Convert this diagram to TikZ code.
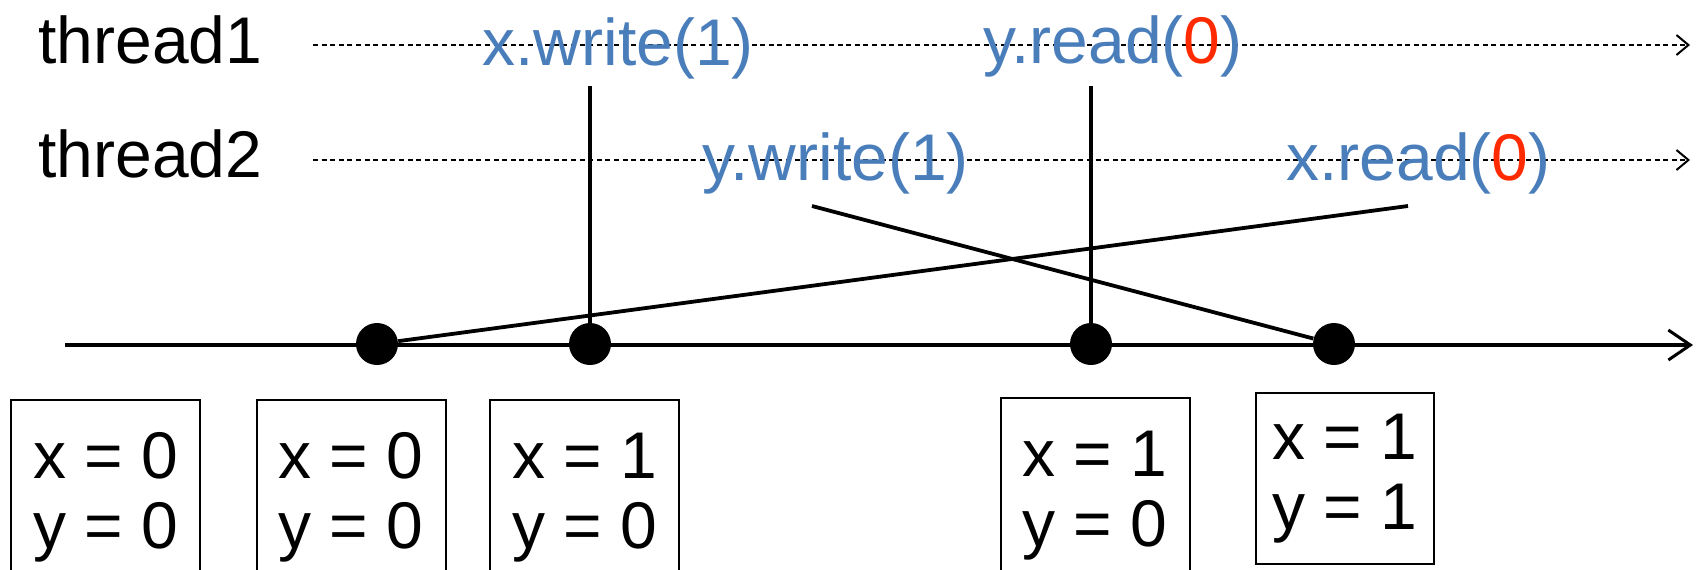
\documentclass[tikz,border=0pt]{standalone}
\usepackage{fontspec}
\setmainfont{Liberation Sans}
\usepackage{xcolor}
\usetikzlibrary{arrows.meta}
\definecolor{opblue}{HTML}{4A7EBB}
\definecolor{opred}{HTML}{FF2A00}

\begin{document}
\begin{tikzpicture}[
    x=0.5pt, y=-0.5pt,
    font=\fontsize{33}{35}\selectfont,
    lbl/.style={anchor=base west, inner sep=0pt},
    op/.style={lbl, text=opblue},
    thread/.style={line width=1.3pt, dash pattern=on 2.5pt off 1.8pt, -{Straight Barb[length=6pt, width=10pt, line width=1pt]}},
    axis/.style={line width=2.2pt, -{Straight Barb[length=11pt, width=15pt, line width=1.5pt]}},
    link/.style={line width=1.9pt},
    event/.style={circle, fill=black, inner sep=0pt, minimum size=21pt},
    statebox/.style={draw, line width=1pt, anchor=north, align=left, inner xsep=0pt, minimum width=94.5pt, minimum height=97.5pt}
  ]
    \useasboundingbox (0,0) rectangle (1698,569);
    % thread time lines
    \coordinate (t1start) at (313,45);
    \coordinate (t1end) at (1690,45);
    \coordinate (t2start) at (313,160);
    \coordinate (t2end) at (1690,160);
    \draw[thread] (t1start) -- (t1end);
    \draw[thread] (t2start) -- (t2end);
    % global order
    \coordinate (tstart) at (65,345);
    \coordinate (tend) at (1693,345);
    \draw[axis] (tstart) -- (tend);
    \node[lbl] (thread1) at (38,63) {thread1};
    \node[lbl] (thread2) at (38,177) {thread2};
    \node[op] (xw) at (482,65) {x.write(1)};
    \node[op] (yr) at (983,63) {y.read(\textcolor{opred}{0})};
    \node[op] (yw) at (702,180) {y.write(1)};
    \node[op] (xr) at (1286,180) {x.read(\textcolor{opred}{0})};
    \coordinate (xwfoot) at (590,86);
    \coordinate (yrfoot) at (1091,86);
    \coordinate (ywfoot) at (812,206);
    \coordinate (xrfoot) at (1408,206);
    \node[event] (e1) at (377,344) {};
    \node[event] (e2) at (590,344) {};
    \node[event] (e3) at (1091,344) {};
    \node[event] (e4) at (1334,344) {};
    \draw[link] (xwfoot) -- (e2);
    \draw[link] (yrfoot) -- (e3);
    \draw[link] (ywfoot) -- (e4);
    \draw[link] (xrfoot) -- (e1);
    % memory states
    \node[statebox] (s1) at (105.5,399) {x = 0\\y = 0};
    \node[statebox] (s2) at (351,399) {x = 0\\y = 0};
    \node[statebox] (s3) at (584.5,399) {x = 1\\y = 0};
    \node[statebox] (s4) at (1095,397) {x = 1\\y = 0};
    \node[statebox, minimum width=89pt, minimum height=85.5pt] (s5) at (1345,392) {x = 1\\y = 1};
\end{tikzpicture}
\end{document}
